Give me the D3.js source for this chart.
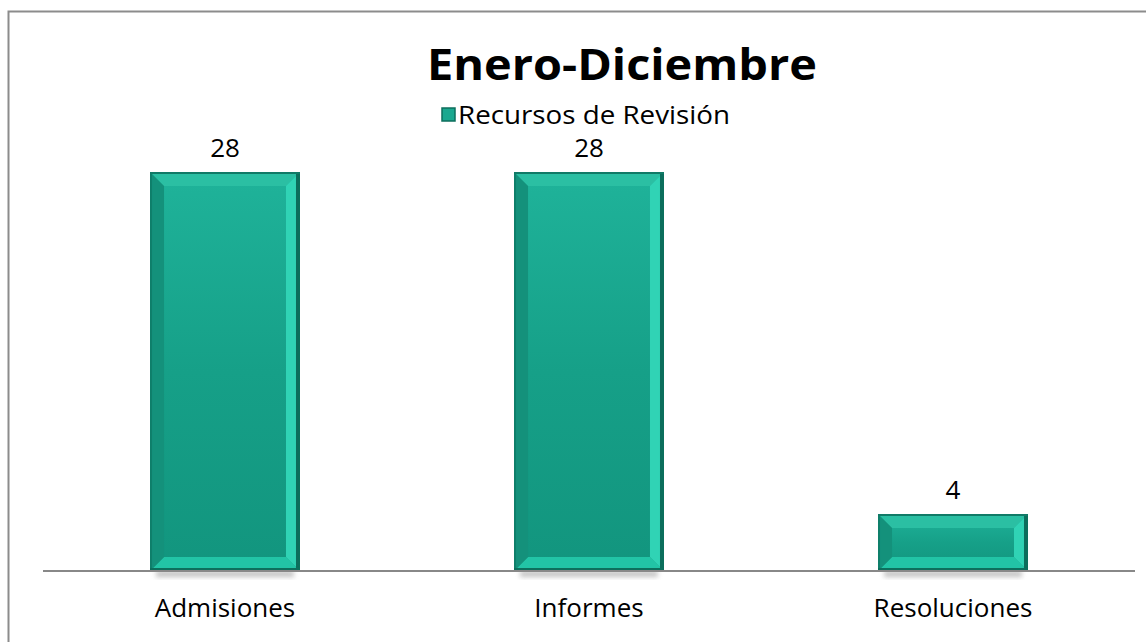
<!DOCTYPE html>
<html><head><meta charset="utf-8">
<script src="https://cdn.jsdelivr.net/npm/d3@7"></script>
<style>body{margin:0;background:#fff}svg{display:block}text{font-family:"Open Sans","DejaVu Sans",sans-serif}</style>
</head><body>
<script>
const categories = ["Admisiones", "Informes", "Resoluciones"];
const values = [28, 28, 4];
const seriesName = "Recursos de Revisión";
const title = "Enero-Diciembre";

const W = 1146, H = 642;
const svg = d3.select("body").append("svg").attr("width", W).attr("height", H);
const defs = svg.append("defs");

const g2 = defs.append("linearGradient").attr("id","barV").attr("x1","0").attr("x2","0").attr("y1","0").attr("y2","1");
[[0,"#1fb39a"],[0.5,"#16a088"],[1,"#12957e"]].forEach(s=>g2.append("stop").attr("offset",s[0]).attr("stop-color",s[1]));
const blur = defs.append("filter").attr("id","sh").attr("x","-10%").attr("y","-50%").attr("width","120%").attr("height","200%");
blur.append("feGaussianBlur").attr("stdDeviation",2.5);

// chart border
svg.append("rect").attr("x",8.5).attr("y",11.5).attr("width",1150).attr("height",640)
  .attr("fill","none").attr("stroke","#8c8c8c").attr("stroke-width",2);

const x = d3.scaleBand().domain(categories).range([43,1135]).paddingInner(0.588).paddingOuter(0.294);
const y = d3.scaleLinear().domain([0,28]).range([571,172]);

// shadows
svg.append("g").selectAll("rect").data(values).join("rect")
  .attr("x",(d,i)=>x(categories[i])+6).attr("y",571).attr("width",x.bandwidth()-12).attr("height",6)
  .attr("fill","#9a9a9a").attr("opacity",0.6).attr("filter","url(#sh)");

const bars = svg.append("g").selectAll("g").data(values).join("g");
bars.each(function(d,i){
  const gg = d3.select(this);
  const x0 = x(categories[i]), bw = x.bandwidth(), yt = y(d), yb = y(0), h = yb-yt;
  const b = Math.min(14, h/3);
  gg.append("rect").attr("x",x0).attr("y",yt).attr("width",bw).attr("height",h).attr("fill","url(#barV)");
  gg.append("path").attr("d",`M${x0},${yt}L${x0+bw},${yt}L${x0+bw-b},${yt+b}L${x0+b},${yt+b}Z`).attr("fill","#2bbfa3");
  gg.append("path").attr("d",`M${x0},${yb}L${x0+bw},${yb}L${x0+bw-b},${yb-b}L${x0+b},${yb-b}Z`).attr("fill","#22c4a6");
  gg.append("path").attr("d",`M${x0},${yt}L${x0+b},${yt+b}L${x0+b},${yb-b}L${x0},${yb}Z`).attr("fill","#14917b");
  gg.append("path").attr("d",`M${x0+bw},${yt}L${x0+bw-b},${yt+b}L${x0+bw-b},${yb-b}L${x0+bw},${yb}Z`).attr("fill","#30d3b5");
  gg.append("rect").attr("x",x0+bw-4).attr("y",yt).attr("width",4).attr("height",h).attr("fill","#0c6e5c");
  gg.append("rect").attr("x",x0).attr("y",yt).attr("width",2).attr("height",h).attr("fill","#0f7f6b");
  gg.append("rect").attr("x",x0).attr("y",yt).attr("width",bw).attr("height",2).attr("fill","#117a67");
  gg.append("rect").attr("x",x0).attr("y",yb-3).attr("width",bw).attr("height",3).attr("fill","#0d6f5d");
});

// axis
svg.append("line").attr("x1",43).attr("x2",1135).attr("y1",571).attr("y2",571).attr("stroke","#888").attr("stroke-width",2);

// value labels
svg.append("g").selectAll("text").data(values).join("text")
  .attr("x",(d,i)=>x(categories[i])+x.bandwidth()/2).attr("y",d=>y(d)-15)
  .attr("text-anchor","middle").attr("font-size",26).attr("fill","#000").text(d=>d);

// category labels
svg.append("g").selectAll("text").data(categories).join("text")
  .attr("x",d=>x(d)+x.bandwidth()/2).attr("y",617)
  .attr("text-anchor","middle").attr("font-size",26).attr("fill","#000").text(d=>d);

// title
svg.append("text").attr("x",622).attr("y",80).attr("text-anchor","middle")
  .attr("font-size",43).attr("font-weight","bold").attr("fill","#000")
  .attr("textLength",390).attr("lengthAdjust","spacingAndGlyphs").text(title);

// legend
svg.append("rect").attr("x",442).attr("y",108).attr("width",13).attr("height",13).attr("fill","#1aa88f").attr("stroke","#0c6e5c").attr("stroke-width",1.5);
svg.append("text").attr("x",458).attr("y",124).attr("font-size",26).attr("fill","#000")
  .attr("textLength",272).attr("lengthAdjust","spacingAndGlyphs").text(seriesName);
</script>
</body></html>
